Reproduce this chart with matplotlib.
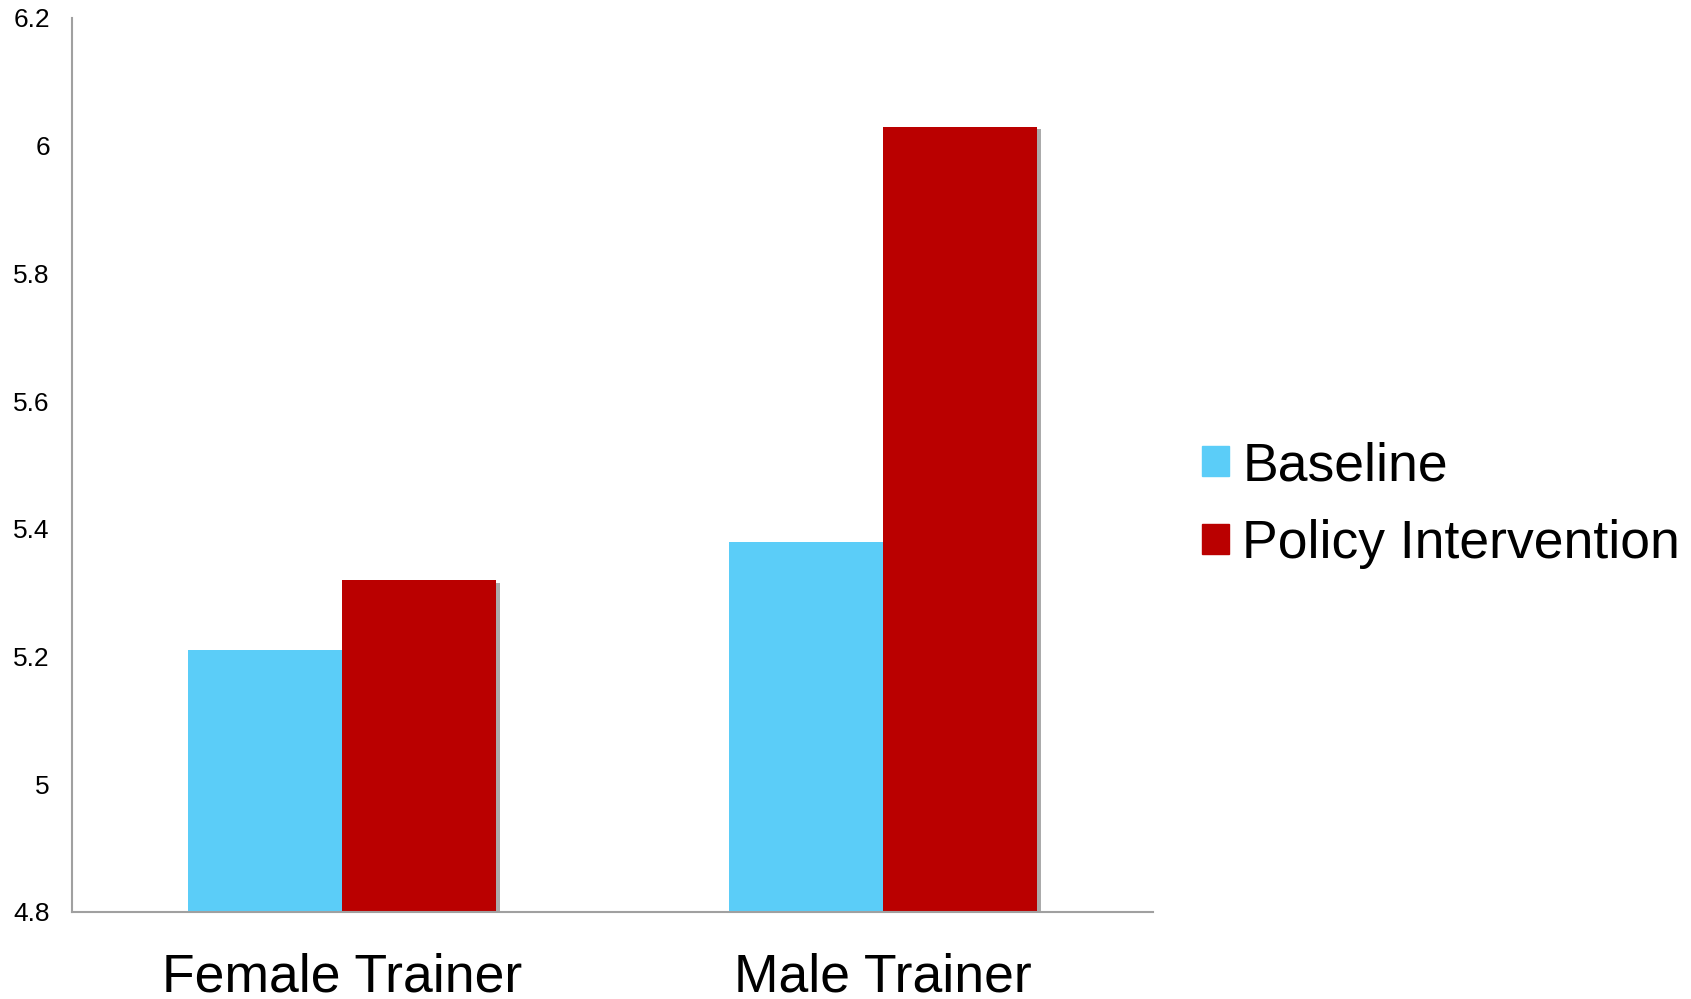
import numpy as np
import matplotlib.pyplot as plt
import matplotlib.patheffects as pe
from matplotlib.patches import Patch

plt.rcParams['font.family'] = ['Liberation Sans', 'DejaVu Sans']

# data
categories = ['Female Trainer', 'Male Trainer']
baseline = [5.21, 5.38]
policy = [5.32, 6.03]
series_names = ['Baseline', 'Policy Intervention']
ytick_vals = [4.8, 5.0, 5.2, 5.4, 5.6, 5.8, 6.0, 6.2]
ytick_labels = ['4.8', '5', '5.2', '5.4', '5.6', '5.8', '6', '6.2']

pal = ['#5BCDF8', '#BA0000']

fig = plt.figure(figsize=(16.91, 9.99), dpi=100)
ax = fig.add_axes([0.0426, 0.0871, 0.6392, 0.8949])

x = np.arange(len(categories))
w = 0.285
shadow = [pe.SimplePatchShadow(offset=(3, -2), shadow_rgbFace='#888888', alpha=0.7), pe.Normal()]
b1 = ax.bar(x - w / 2, [v - 4.8 for v in baseline], w, bottom=4.8, color=pal[0], zorder=3)
b2 = ax.bar(x + w / 2, [v - 4.8 for v in policy], w, bottom=4.8, color=pal[1], zorder=3)
for b in list(b1) + list(b2):
    b.set_path_effects(shadow)

ax.set_xlim(-0.5, 1.5)
ax.set_ylim(4.8, 6.2)
ax.set_yticks(ytick_vals)
ax.set_yticklabels(ytick_labels, fontsize=19)
ax.set_xticks(x)
ax.set_xticklabels(categories, fontsize=38.5)
ax.tick_params(axis='y', length=0, pad=16)
ax.tick_params(axis='x', length=0, pad=29)

for s in ['top', 'right']:
    ax.spines[s].set_visible(False)
for s in ['left', 'bottom']:
    ax.spines[s].set_color('#A0A0A0')
    ax.spines[s].set_linewidth(1.5)
    ax.spines[s].set_zorder(4)

handles = [Patch(color=pal[0]), Patch(color=pal[1])]
fig.legend(handles, series_names, loc='center left', bbox_to_anchor=(0.711, 0.4945),
           frameon=False, fontsize=38.5, handlelength=0.5, handleheight=0.5,
           handletextpad=0.25, labelspacing=0.52, borderpad=0, borderaxespad=0)

fig.savefig('out.png', dpi=100)
